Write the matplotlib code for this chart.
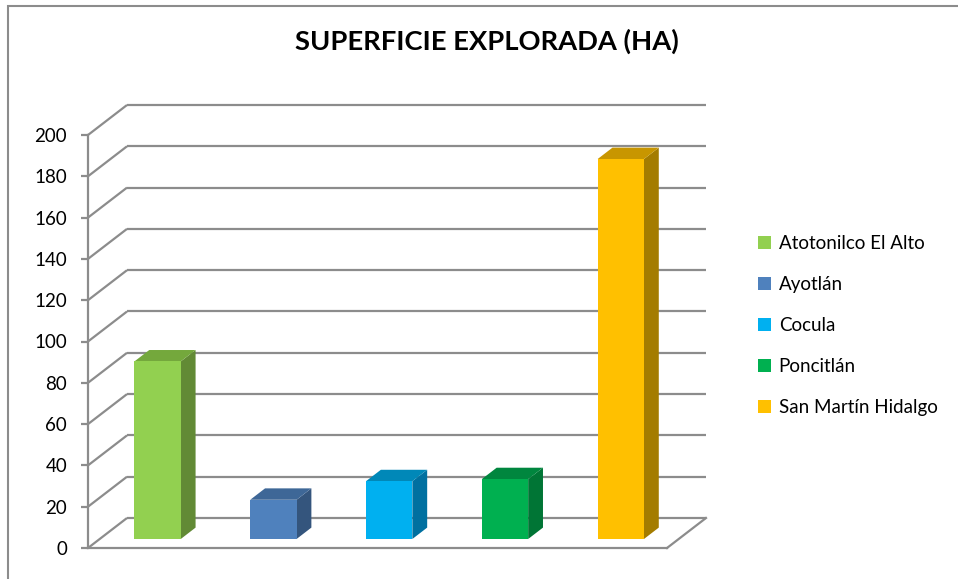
import matplotlib
matplotlib.use("Agg")
import matplotlib.pyplot as plt
from matplotlib.patches import Patch, Rectangle

# data
municipios = ['Atotonilco El Alto', 'Ayotlán', 'Cocula', 'Poncitlán', 'San Martín Hidalgo']
hectareas = [86, 19, 28, 29, 184]
yticks = [0, 20, 40, 60, 80, 100, 120, 140, 160, 180, 200]

front_colors = ['#92D050', '#4F81BD', '#00B0F0', '#00B050', '#FFC000']
side_colors = ['#628A35', '#34557D', '#0070A0', '#007535', '#A47C00']
top_colors = ['#74A83C', '#3E6797', '#0088B8', '#00863E', '#C89600']

plt.rcParams['font.family'] = ['Lato', 'DejaVu Sans']

W, H = 958, 579
fig = plt.figure(figsize=(W / 100, H / 100), dpi=100)

# front plane of the fake 3d box, in pixels
x0, x1, y0, y1 = 88, 667, 135, 548
ax = fig.add_axes([x0 / W, 1 - y1 / H, (x1 - x0) / W, (y1 - y0) / H])
n = len(municipios)
ax.set_xlim(0, n)
ax.set_ylim(0, 200)

# depth offset of the back wall in data units
DX = 39 / ((x1 - x0) / n)
DY = 30 / ((y1 - y0) / 200)

def shift(x, y, d):
    return x + DX * d, y + DY * d

grid = '#8C8C8C'
lw = 1.6

# left wall diagonals and back wall grid lines
for t in yticks:
    bx, by = shift(0, t, 1)
    ax.plot([0, bx], [t, by], color=grid, lw=lw, clip_on=False, zorder=1, solid_capstyle='butt')
    ex, ey = shift(n, t, 1)
    ax.plot([bx, ex], [by, ey], color=grid, lw=lw, clip_on=False, zorder=1, solid_capstyle='butt')

# floor right edge
fx, fy = shift(n, 0, 1)
ax.plot([n, fx], [0, fy], color=grid, lw=lw, clip_on=False, zorder=1)

# bars: front, side, top faces
d0, d1 = 0.3, 0.68
bw = 0.4
for i, v in enumerate(hectareas):
    left = i + 0.5 - bw / 2
    right = i + 0.5 + bw / 2
    fl = shift(left, 0, d0)
    fr = shift(right, 0, d0)
    tl = shift(left, v, d0)
    tr = shift(right, v, d0)
    br_b = shift(right, 0, d1)
    br_t = shift(right, v, d1)
    bl_t = shift(left, v, d1)
    # side
    ax.fill([fr[0], br_b[0], br_t[0], tr[0]], [fr[1], br_b[1], br_t[1], tr[1]],
            color=side_colors[i], lw=0, zorder=3, clip_on=False)
    # top
    ax.fill([tl[0], tr[0], br_t[0], bl_t[0]], [tl[1], tr[1], br_t[1], bl_t[1]],
            color=top_colors[i], lw=0, zorder=3, clip_on=False)
    # front
    ax.fill([fl[0], fr[0], tr[0], tl[0]], [fl[1], fr[1], tr[1], tl[1]],
            color=front_colors[i], lw=0, zorder=4, clip_on=False)

for s in ['top', 'right']:
    ax.spines[s].set_visible(False)
for s in ['left', 'bottom']:
    ax.spines[s].set_color(grid)
    ax.spines[s].set_linewidth(lw)
ax.set_xticks([])
ax.set_yticks(yticks)
ax.tick_params(axis='y', length=5, width=lw, color=grid, pad=10, labelsize=13.5, labelcolor='black')
ax.patch.set_visible(False)

fig.text(487 / W, 1 - 41 / H, 'SUPERFICIE EXPLORADA (HA)', ha='center', va='center',
         fontsize=19.7, fontweight='bold')

handles = [Patch(facecolor=c, edgecolor='none') for c in front_colors]
fig.legend(handles, municipios, loc='center left', bbox_to_anchor=(758 / W, 1 - 325.5 / H),
           frameon=False, fontsize=13.5, handlelength=0.7, handleheight=0.7,
           handletextpad=0.4, borderpad=0, borderaxespad=0, labelspacing=1.28)

# outer chart border
fig.add_artist(Rectangle((8 / W, -0.1), 1.2, (1 - 6 / H) + 0.1, transform=fig.transFigure,
                         fill=False, edgecolor='#8C8C8C', lw=1.5))

fig.savefig('out.png', dpi=100)
